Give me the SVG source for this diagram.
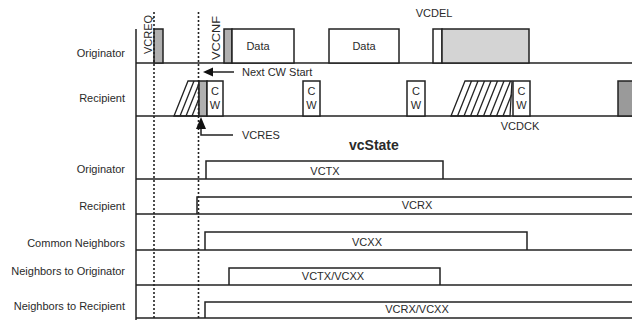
<svg xmlns="http://www.w3.org/2000/svg" width="632" height="320" viewBox="0 0 632 320">
<style>
text{font-family:"Liberation Sans",Arial,sans-serif;font-size:11px;fill:#2a2a2a}
.lbl{text-anchor:end}
.mid{text-anchor:middle}
.ln{stroke:#222;stroke-width:1.5;fill:none}
.box{stroke:#222;stroke-width:1.5;fill:#fff}
.gray{stroke:#222;stroke-width:1.5;fill:#b0b0b0}
.lgray{stroke:#222;stroke-width:1.5;fill:#d4d4d4}
.dgray{stroke:#222;stroke-width:1.5;fill:#9a9a9a}
.hatch{stroke:#222;stroke-width:1.3;fill:none}
.dot{stroke:#222;stroke-width:1.6;stroke-dasharray:2 2;fill:none}
</style>
<rect width="632" height="320" fill="#fff"/>

<g id="labels">
<text class="lbl" x="125" y="57">Originator</text>
<text class="lbl" x="125" y="102">Recipient</text>
<text class="lbl" x="125" y="173">Originator</text>
<text class="lbl" x="125" y="210">Recipient</text>
<text class="lbl" x="125" y="247">Common Neighbors</text>
<text class="lbl" x="125" y="275">Neighbors to Originator</text>
<text class="lbl" x="125" y="310">Neighbors to Recipient</text>
</g>

<g id="axes">
<line class="ln" x1="136" y1="29" x2="136" y2="320"/>
<line class="ln" x1="136" y1="63" x2="632" y2="63"/>
<line class="ln" x1="136" y1="116" x2="632" y2="116"/>
<line class="ln" x1="136" y1="179" x2="632" y2="179"/>
<line class="ln" x1="136" y1="214" x2="632" y2="214"/>
<line class="ln" x1="136" y1="250" x2="632" y2="250"/>
<line class="ln" x1="136" y1="285" x2="632" y2="285"/>
<line class="ln" x1="136" y1="318" x2="632" y2="318"/>
</g>

<g id="originator-frames">
<rect class="gray" x="154" y="29" width="9" height="34"/>
<text transform="translate(151.5,54) rotate(-90)">VCREQ</text>
<rect class="gray" x="224" y="29" width="8" height="34"/>
<text transform="translate(220,60) rotate(-90)" textLength="44" lengthAdjust="spacingAndGlyphs">VCCNF</text>
<rect class="box" x="232" y="29" width="62" height="34"/>
<text class="mid" x="258" y="50">Data</text>
<rect class="box" x="329" y="29" width="70" height="34"/>
<text class="mid" x="364" y="50">Data</text>
<rect class="box" x="433" y="29" width="9" height="34"/>
<rect class="lgray" x="442" y="29" width="87" height="34"/>
<text class="mid" x="434" y="17">VCDEL</text>
</g>

<g id="recipient-frames">
<polygon class="hatch" points="174,116 188,81 199,81 199,116"/>
<line class="hatch" x1="180" y1="116" x2="194" y2="81"/>
<line class="hatch" x1="186" y1="116" x2="199" y2="83.5"/>
<line class="hatch" x1="192" y1="116" x2="199" y2="98.5"/>
<rect class="gray" x="199" y="81" width="8" height="35"/>
<rect class="box" x="207" y="81" width="16" height="35"/>
<text class="mid" x="215" y="95">C</text>
<text class="mid" x="215" y="109">W</text>
<rect class="box" x="303" y="81" width="17" height="35"/>
<text class="mid" x="311.5" y="95">C</text>
<text class="mid" x="311.5" y="109">W</text>
<rect class="box" x="407" y="81" width="18" height="35"/>
<text class="mid" x="416" y="95">C</text>
<text class="mid" x="416" y="109">W</text>
<polygon class="hatch" points="451,116 465,81 512,81 510,116"/>
<line class="hatch" x1="457.5" y1="116" x2="471.5" y2="81"/>
<line class="hatch" x1="464" y1="116" x2="478" y2="81"/>
<line class="hatch" x1="470.5" y1="116" x2="484.5" y2="81"/>
<line class="hatch" x1="477" y1="116" x2="491" y2="81"/>
<line class="hatch" x1="483.5" y1="116" x2="497.5" y2="81"/>
<line class="hatch" x1="490" y1="116" x2="504" y2="81"/>
<line class="hatch" x1="496.5" y1="116" x2="510.5" y2="81"/>
<line class="hatch" x1="503" y1="116" x2="511.6" y2="94.5"/>
<rect class="box" x="513" y="81" width="17" height="35"/>
<text class="mid" x="521.5" y="95">C</text>
<text class="mid" x="521.5" y="109">W</text>
<rect class="dgray" x="618" y="81" width="16" height="35"/>
<text class="mid" x="520" y="130">VCDCK</text>
</g>

<g id="dotted-markers">
<line class="dot" x1="154" y1="12" x2="154" y2="320"/>
<line class="dot" x1="198.5" y1="12" x2="198.5" y2="320"/>
</g>

<g id="connectors">
<line class="ln" x1="234" y1="72" x2="211" y2="72" stroke-width="2"/>
<polygon points="203,72 213,67.5 213,76.5" fill="#111"/>
<text x="242" y="76">Next CW Start</text>
<polygon points="201,117 196,129 206,129" fill="#111"/>
<polyline class="ln" points="201,129 201,135 233,135"/>
<text x="242" y="139">VCRES</text>
</g>

<g id="vcstate">
<text x="349" y="150" style="font-weight:bold;font-size:14px">vcState</text>
<polyline class="ln" points="206,179 206,161 443,161 443,179"/>
<text class="mid" x="325" y="175">VCTX</text>
<polyline class="ln" points="197,214 197,197 632,197"/>
<text class="mid" x="417" y="209">VCRX</text>
<polyline class="ln" points="205,250 205,232 527,232 527,250"/>
<text class="mid" x="367" y="246">VCXX</text>
<polyline class="ln" points="229,285 229,268 440,268 440,285"/>
<text class="mid" x="333" y="280">VCTX/VCXX</text>
<polyline class="ln" points="205,318 205,302 632,302"/>
<text class="mid" x="417" y="313">VCRX/VCXX</text>
</g>
</svg>
